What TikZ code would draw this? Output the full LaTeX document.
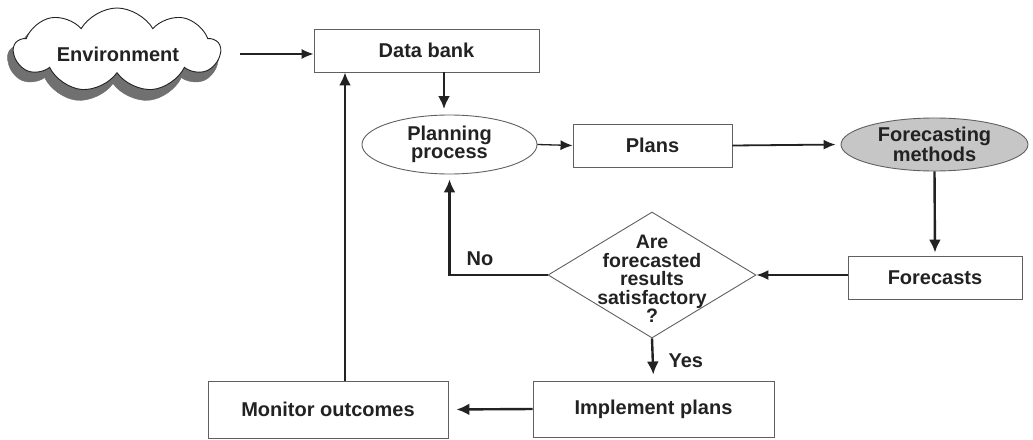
\documentclass[tikz,border=0pt]{standalone}
\usepackage{fontspec}
\setmainfont{Liberation Sans}
\usetikzlibrary{shapes.geometric,shapes.symbols,arrows.meta}
\definecolor{ink}{HTML}{222222}
\definecolor{edge}{HTML}{606060}
\definecolor{fmfill}{HTML}{C6C6C6}
\definecolor{shade}{HTML}{707070}
\tikzset{
  x=1pt,y=-1pt,
  txt/.style={font=\fontsize{20}{18.5}\selectfont\bfseries, text=ink, align=center},
  boxnode/.style={txt, draw=edge, line width=0.9pt, rectangle, inner sep=0pt},
  ellnode/.style={txt, draw=edge, line width=0.9pt, ellipse, inner sep=0pt},
  thickarrow/.style={draw=ink, line width=2.4pt, -{Latex[length=13pt,width=12pt]}},
  thinarrow/.style={draw=ink, line width=1.3pt, -{Latex[length=12pt,width=10pt]}},
  lbl/.style={font=\fontsize{20}{18.5}\selectfont\bfseries, text=ink},
}
\begin{document}
\begin{tikzpicture}
\useasboundingbox (0,0) rectangle (1033,439);
% cloud with shadow
\node[cloud, cloud puffs=9, cloud puff arc=120, aspect=2.2, fill=shade, draw=shade,
      minimum width=210pt, minimum height=90pt, inner sep=0pt] (cloudshadow) at (113,58) {};
\node[cloud, cloud puffs=9, cloud puff arc=120, aspect=2.2, fill=white, draw=ink, line width=0.9pt,
      minimum width=206pt, minimum height=84pt, inner sep=0pt] (cloud) at (117,50) {};
\node[txt] (cloudtext) at (118,54) {Environment};

\node[boxnode, minimum width=225pt, minimum height=43pt] (databank) at (426.5,50.5) {Data bank};
\node[ellnode, minimum width=175pt, minimum height=59pt] (planning) at (449.5,144.5) {Planning\\process};
\node[boxnode, minimum width=159pt, minimum height=43pt] (plans) at (652.5,145.5) {Plans};
\node[ellnode, fill=fmfill, minimum width=187pt, minimum height=53pt] (forecasting) at (934.5,144.5) {Forecasting\\methods};
\node[boxnode, minimum width=174pt, minimum height=43pt] (forecasts) at (935,277.5) {Forecasts};
\node[diamond, draw=edge, line width=0.9pt, minimum width=208pt, minimum height=126pt, inner sep=0pt] (decision) at (652,275) {};
\node[txt, font=\fontsize{19.5}{18.5}\selectfont\bfseries] (decisiontext) at (652,279) {Are\\forecasted\\results\\satisfactory\\?};
\node[boxnode, minimum width=241pt, minimum height=56pt] (implement) at (653.5,409) {Implement plans};
\node[boxnode, minimum width=240pt, minimum height=57pt] (monitor) at (328,409.5) {Monitor outcomes};

\coordinate (envstart) at (240,54);
\draw[thinarrow] (envstart) -- (envstart -| databank.west);
\draw[thickarrow, shorten >=6pt] (444,72) -- (444,115);
\draw[thinarrow] (planning.east) -- (plans.west);
\draw[thinarrow, line width=1.8pt, shorten >=5pt] (plans.east) -- (forecasting.west);
\draw[thickarrow, shorten >=3pt] (forecasting.south) -- (forecasts.north);
\draw[thinarrow, line width=1.6pt] (forecasts.west |- decision.east) -- (decision.east);
\draw[thickarrow, shorten >=5pt] (decision.west) -| (planning.south);
\draw[thickarrow, shorten >=6pt] (decision.south) -- (implement.north);
\draw[thickarrow, shorten >=8pt] (implement.west) -- (monitor.east);
\draw[thickarrow] ([xshift=17pt]monitor.north) -- ([xshift=17pt]monitor.north |- databank.south);

\node[lbl] (nolabel) at (480,259) {No};
\node[lbl, anchor=west] (yeslabel) at (665,361) {Yes};
\end{tikzpicture}
\end{document}
